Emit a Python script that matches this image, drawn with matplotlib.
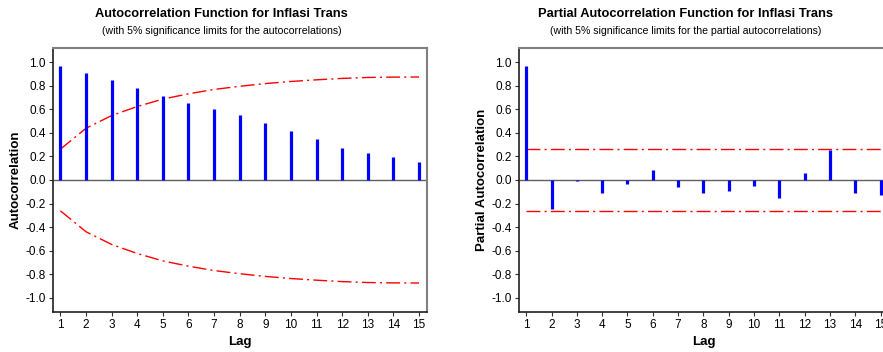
import numpy as np
import matplotlib
matplotlib.use("Agg")
import matplotlib.pyplot as plt

plt.rcParams['font.family'] = ['Liberation Sans', 'DejaVu Sans']

lags = list(range(1, 16))
acf = [0.969, 0.912, 0.853, 0.784, 0.716, 0.659, 0.608, 0.551, 0.483, 0.415,
       0.349, 0.273, 0.230, 0.196, 0.151]
acf_limit = [0.262, 0.440, 0.548, 0.625, 0.688, 0.733, 0.770, 0.797, 0.820, 0.838,
             0.852, 0.864, 0.872, 0.875, 0.876]
pacf = [0.969, -0.250, -0.008, -0.114, -0.030, 0.085, -0.057, -0.108, -0.091, -0.048,
        -0.150, 0.060, 0.258, -0.108, -0.125]
pacf_limit = 0.260
yticks = [-1.0, -0.8, -0.6, -0.4, -0.2, 0.0, 0.2, 0.4, 0.6, 0.8, 1.0]

W, H = 883, 352
fig = plt.figure(figsize=(W / 100, H / 100), dpi=100)

def panel(rect, vals, lo, hi, ylabel):
    ax = fig.add_axes(rect)
    ax.vlines(lags, 0, vals, colors='#0000ff', linewidth=2.3, zorder=3)
    ax.axhline(0, color='#606060', linewidth=1.0, zorder=2)
    ax.plot(lags, hi, color='red', linestyle=(0, (10, 3, 1.5, 3)), linewidth=1.0)
    ax.plot(lags, lo, color='red', linestyle=(0, (10, 3, 1.5, 3)), linewidth=1.0)
    ax.set_xlim(0.7, 15.3)
    ax.set_ylim(-1.12, 1.12)
    ax.set_xticks(lags)
    ax.set_yticks(yticks)
    ax.set_yticklabels([f"{v:.1f}" for v in yticks])
    ax.tick_params(labelsize=8.5, length=3, width=0.8, color='#303030', pad=2)
    for s in ['left', 'bottom']:
        ax.spines[s].set_color('#202020')
        ax.spines[s].set_linewidth(1.2)
    for s in ['top', 'right']:
        ax.spines[s].set_color('#808080')
        ax.spines[s].set_linewidth(1.5)
    ax.set_xlabel('Lag', fontsize=9.5, fontweight='bold', labelpad=4)
    ax.set_ylabel(ylabel, fontsize=9.5, fontweight='bold')
    ax.yaxis.set_label_coords(-31 / (rect[2] * W), 0.5)
    return ax

# left panel: ACF
ax1 = panel([52.7 / W, 40.3 / H, 374 / W, 263.4 / H], acf,
            [-v for v in acf_limit], acf_limit, 'Autocorrelation')
# right panel: PACF (right edge runs past the image, like the original)
ax2 = panel([518.7 / W, 40.3 / H, 369.4 / W, 263.4 / H], pacf,
            [-pacf_limit] * 15, [pacf_limit] * 15, 'Partial Autocorrelation')

fig.text(221.5 / W, 1 - 14 / H, 'Autocorrelation Function for Inflasi Trans',
         ha='center', va='center', fontsize=9.3, fontweight='bold')
fig.text(221.5 / W, 1 - 31 / H, '(with 5% significance limits for the autocorrelations)',
         ha='center', va='center', fontsize=7.6)
fig.text(686 / W, 1 - 14 / H, 'Partial Autocorrelation Function for Inflasi Trans',
         ha='center', va='center', fontsize=9.3, fontweight='bold')
fig.text(686 / W, 1 - 31 / H, '(with 5% significance limits for the partial autocorrelations)',
         ha='center', va='center', fontsize=7.6)

fig.savefig('out.png', dpi=100)
